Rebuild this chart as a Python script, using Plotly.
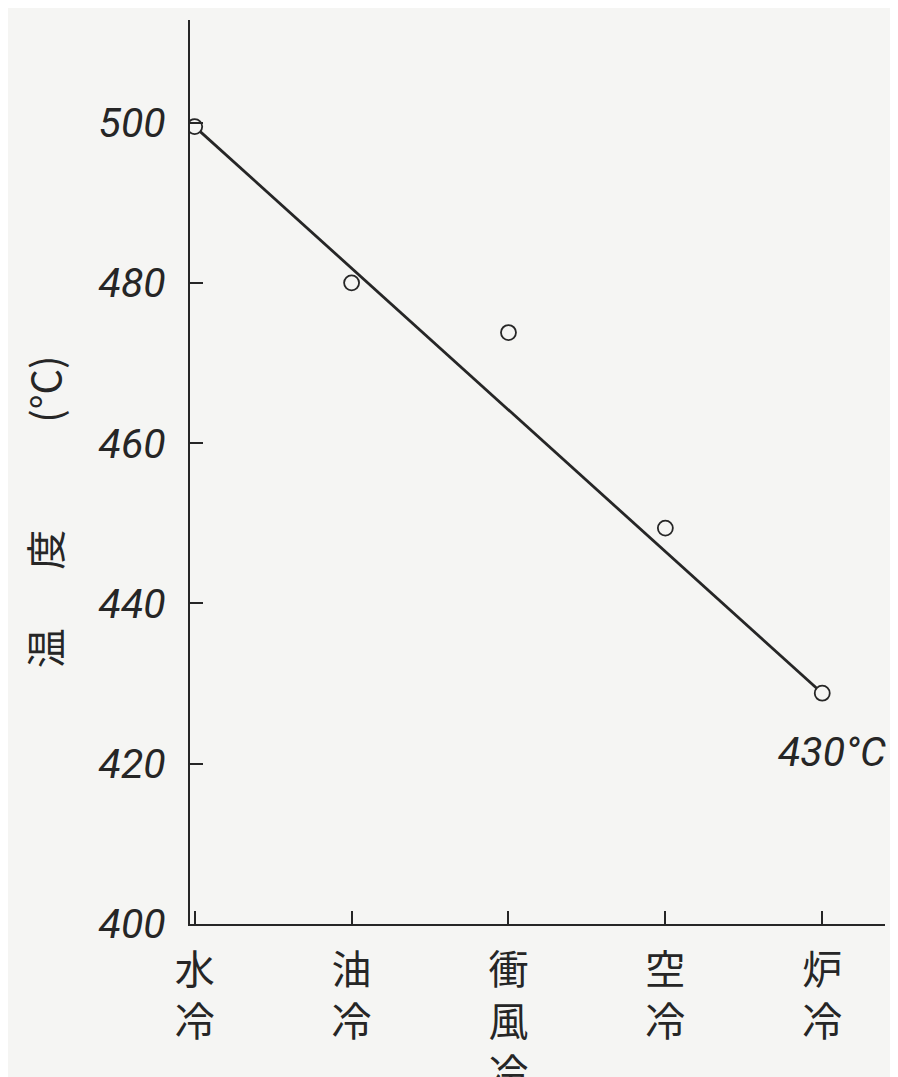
import plotly.graph_objects as go

methods = ["水冷", "油冷", "衝風冷", "空冷", "炉冷"]
temps = [499.5, 480.0, 473.8, 449.4, 428.8]
y_ticks = [400, 420, 440, 460, 480, 500]
end_label = "430°C"

xi = list(range(len(methods)))
tick_text = ["<br>".join(list(m)) for m in methods]

ink = "#262626"
bg = "#f5f5f3"
num_font = dict(family="Roboto, Liberation Sans Narrow, sans-serif",
                size=41, color=ink, style="italic")
cjk_font = dict(family="Noto Sans CJK JP, Noto Sans CJK SC, sans-serif", size=40, color=ink)

fig = go.Figure()
# trend line from first to last measurement
fig.add_trace(go.Scatter(x=[xi[0], xi[-1]], y=[temps[0], temps[-1]], mode="lines",
                         line=dict(color=ink, width=2.8), hoverinfo="skip", showlegend=False))
fig.add_trace(go.Scatter(x=xi, y=temps, mode="markers",
                         marker=dict(symbol="circle", size=15, color=bg,
                                     line=dict(color=ink, width=1.8)),
                         showlegend=False))

fig.add_annotation(xref="paper", x=1.004, y=421.5, text=end_label, showarrow=False,
                   font=num_font, xanchor="right", yanchor="middle")

# y-axis title pieces (rotated)
for txt, py in [("温", 0.305), ("度", 0.414), ("(°C)", 0.591)]:
    fig.add_annotation(xref="paper", yref="paper", x=-0.21, y=py, text=txt,
                       textangle=-90, showarrow=False, font=cjk_font,
                       xanchor="center", yanchor="middle")

fig.update_xaxes(range=[-0.03, 4.4], tickvals=xi, ticktext=tick_text, automargin=False,
                 showgrid=False, zeroline=False, showline=True, linecolor=ink, linewidth=2.4,
                 ticks="inside", ticklen=13, tickwidth=1.5, tickcolor=ink,
                 tickfont=cjk_font, ticklabelstandoff=10)
fig.update_yaxes(range=[400, 512.8], tickvals=y_ticks, ticktext=[str(v) for v in y_ticks],
                 automargin=False,
                 showgrid=False, zeroline=False, showline=True, linecolor=ink, linewidth=2.4,
                 ticks="inside", ticklen=13, tickwidth=1.5, tickcolor=ink,
                 tickfont=num_font, ticklabelstandoff=14)

fig.update_layout(width=890, height=1069, margin=dict(l=182, r=13, t=12, b=153),
                  paper_bgcolor=bg, plot_bgcolor=bg, showlegend=False)

fig.write_html("out.html")
